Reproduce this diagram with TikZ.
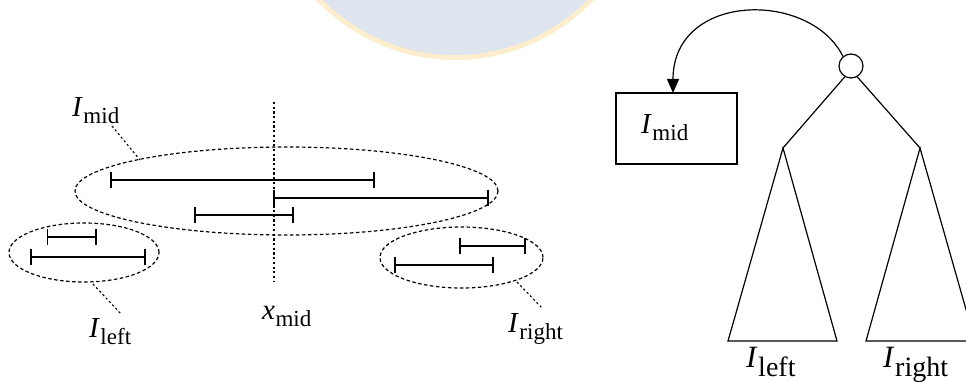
\documentclass[tikz,border=0pt]{standalone}
\usepackage{fontspec}
\setmainfont{Liberation Serif}
\usetikzlibrary{arrows.meta,shapes.geometric}

\definecolor{sealring}{RGB}{252,238,205}
\definecolor{sealfill}{RGB}{222,229,239}

% label of the form I_{sub}
\newcommand{\sublbl}[2]{\fontsize{29}{32}\selectfont\textit{#1}\kern0.5pt\raisebox{-7pt}{\fontsize{23}{25}\selectfont #2}}
% the same, set larger under the subtrees
\newcommand{\biglbl}[2]{\fontsize{31}{34}\selectfont\textit{#1}\kern0.5pt\raisebox{-9pt}{\fontsize{28}{30}\selectfont #2}}

\tikzset{
  ivl/.style={line width=1.8pt},
  grp/.style={line width=1.2pt, dash pattern=on 3.5pt off 2.5pt},
  lead/.style={line width=1.1pt, dash pattern=on 2.2pt off 2.5pt},
  txt/.style={inner sep=0pt, anchor=base west},
  edge/.style={line width=1.2pt},
}

% an interval drawn with end bars: \interval{x1}{x2}{y}
\newcommand{\interval}[3]{%
  \draw[ivl] (#1,#3) -- (#2,#3);
  \draw[ivl] (#1,#3-8) -- (#1,#3+8);
  \draw[ivl] (#2,#3-8) -- (#2,#3+8);
}

\begin{document}
\begin{tikzpicture}[x=1pt,y=-1pt]
\useasboundingbox (0,0) rectangle (966,382);

% faint seal in the background
\begin{scope}
  \clip (0,0) rectangle (966,382);
  \fill[sealring] (455,-131) circle (191);
  \fill[sealfill] (455,-131) circle (186);
\end{scope}

% ---------- left: intervals around x_mid ----------
\draw[lead] (274,102) -- (274,282);
\node[txt] (xmid) at (262,319) {\sublbl{x}{mid}};

\interval{111}{374}{180}
\interval{274}{488}{198}
\interval{195}{293}{215}

\interval{47.5}{96}{237}
\interval{31}{145}{257}

\interval{460}{525}{246}
\interval{395}{493}{265}

\node[grp, draw, ellipse, minimum width=423pt, minimum height=88pt, inner sep=0pt] (emid) at (286.5,191) {};
\node[grp, draw, ellipse, minimum width=150pt, minimum height=59pt, inner sep=0pt] (eleft) at (84,252.5) {};
\node[grp, draw, ellipse, minimum width=163pt, minimum height=61pt, inner sep=0pt] (eright) at (461.5,257.5) {};

\node[txt] (lmid) at (72,117) {\sublbl{I}{mid}};
\node[txt] (lleft) at (89,337) {\sublbl{I}{left}};
\node[txt] (lright) at (508,332) {\sublbl{I}{right}};

\coordinate (qmid) at (112,126);
\coordinate (pmid) at (140,160);
\coordinate (pleft) at (93,284);
\coordinate (qleft) at (121,314);
\coordinate (pright) at (517,282);
\coordinate (qright) at (542,308);
\draw[lead] (qmid) -- (pmid);
\draw[lead] (pleft) -- (qleft);
\draw[lead] (pright) -- (qright);

% ---------- right: the tree ----------
\node[draw, circle, line width=1.2pt, minimum size=24pt, inner sep=0pt] (root) at (851,66) {};
\node[draw, line width=1.6pt, minimum width=121pt, minimum height=71pt, inner sep=0pt] (box) at (676.5,128.5) {};
\node[txt] (boxlbl) at (641,134) {\sublbl{I}{mid}};

\coordinate (tip) at (673,93);
\draw[edge, -{Triangle[length=14pt,width=12pt]}] (root.130) .. controls (810,-10) and (673,-8) .. (tip);

\coordinate (lap) at (783,148);
\coordinate (rap) at (920,148);
\draw[edge] (root.240) -- (lap);
\draw[edge] (root.300) -- (rap);

\begin{scope}
  \clip (0,0) rectangle (966,382);
  \draw[edge] (lap) -- (728,341) -- (837,341) -- cycle;
  \draw[edge] (rap) -- (866,341) -- (975,341) -- cycle;
\end{scope}

\node[txt] (tleft) at (746,367) {\biglbl{I}{left}};
\node[txt] (tright) at (883,367) {\biglbl{I}{right}};
\end{tikzpicture}
\end{document}
